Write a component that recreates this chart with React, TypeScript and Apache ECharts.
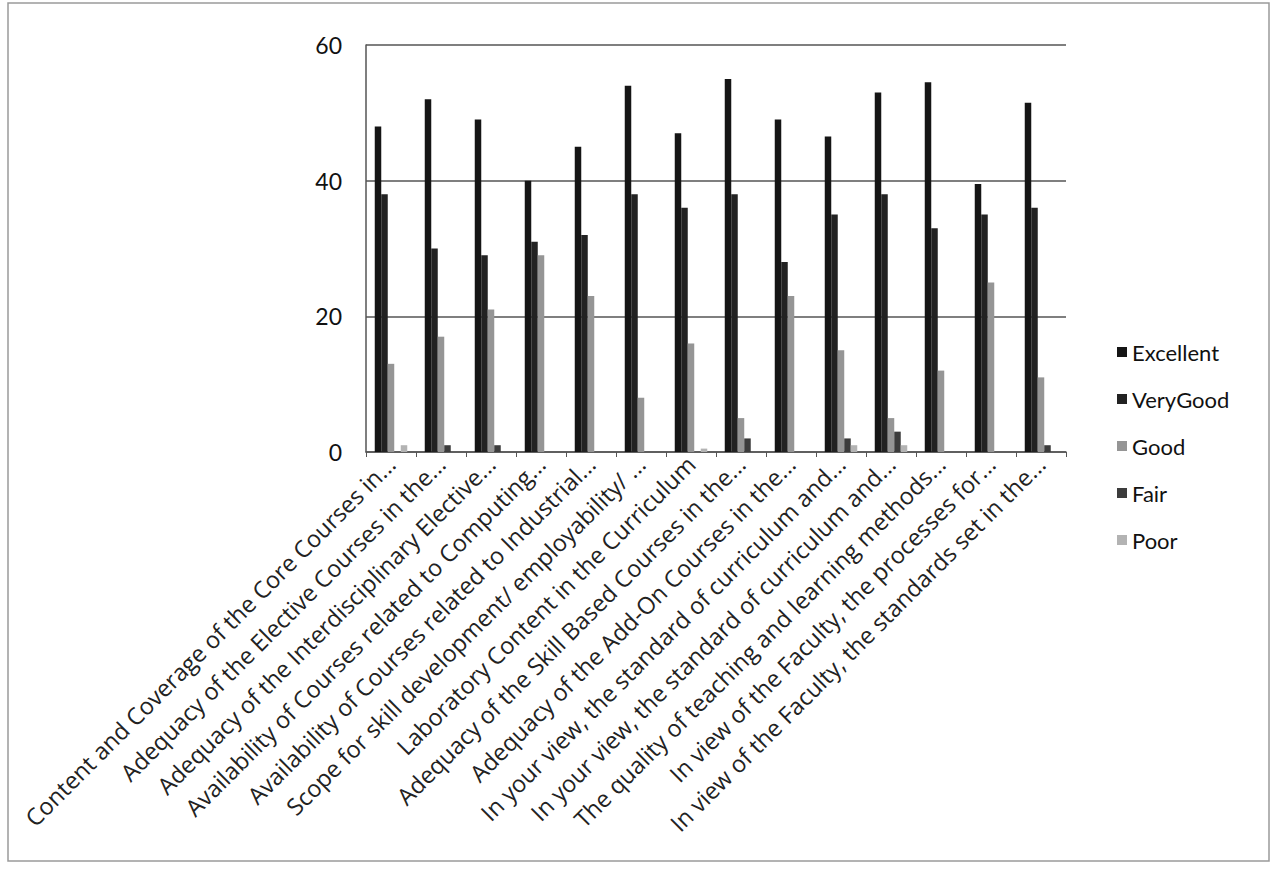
import React, { useEffect, useRef } from "react";
import * as echarts from "echarts";

const categories = [
  "Content and Coverage of the Core Courses in...",
  "Adequacy of the Elective Courses in the...",
  "Adequacy of the Interdisciplinary Elective...",
  "Availability of Courses related to Computing...",
  "Availability of Courses related to Industrial...",
  "Scope for skill development/ employability/ ...",
  "Laboratory Content in the Curriculum",
  "Adequacy of the Skill Based Courses in the...",
  "Adequacy of the Add-On Courses in the...",
  "In your view, the standard of curriculum and...",
  "In your view, the standard of curriculum and...",
  "The quality of teaching and learning methods...",
  "In view of the Faculty, the processes for...",
  "In view of the Faculty, the standards set in the...",
];

const excellent = [48, 52, 49, 40, 45, 54, 47, 55, 49, 46.5, 53, 54.5, 39.5, 51.5];
const veryGood = [38, 30, 29, 31, 32, 38, 36, 38, 28, 35, 38, 33, 35, 36];
const good = [13, 17, 21, 29, 23, 8, 16, 5, 23, 15, 5, 12, 25, 11];
const fair = [0, 1, 1, 0, 0, 0, 0, 2, 0, 2, 3, 0, 0, 1];
const poor = [1, 0, 0, 0, 0, 0, 0.5, 0, 0, 1, 1, 0, 0, 0];

const seriesNames = ["Excellent", "VeryGood", "Good", "Fair", "Poor"];
const seriesData = [excellent, veryGood, good, fair, poor];
const seriesColors = ["#151515", "#222222", "#959595", "#3c3c3c", "#b3b3b3"];

const yTicks = [0, 20, 40, 60];

export default function App() {
  const ref = useRef<HTMLDivElement>(null);
  useEffect(() => {
    const chart = echarts.init(ref.current!, null, { renderer: "svg" });
    chart.setOption({
      animation: false,
      backgroundColor: "#ffffff",
      textStyle: { fontFamily: "Lato" },
      graphic: [
        {
          type: "rect",
          shape: { x: 8, y: 3, width: 1261, height: 858 },
          style: { fill: "none", stroke: "#9a9a9a", lineWidth: 1.5 },
          silent: true,
        },
      ],
      legend: {
        orient: "vertical",
        left: 1112,
        top: 336,
        itemWidth: 10,
        itemHeight: 10,
        itemGap: 25,
        icon: "rect",
        textStyle: { fontSize: 22, color: "#111", fontFamily: "Lato" },
        data: seriesNames,
      },
      grid: { left: 366, right: 213, top: 45, bottom: 418, containLabel: false },
      xAxis: {
        type: "category",
        data: categories,
        axisLine: { show: true, lineStyle: { color: "#555", width: 1.5 } },
        axisTick: { show: true, interval: 0, length: 5, lineStyle: { color: "#555" } },
        axisLabel: {
          interval: 0,
          rotate: 45,
          fontSize: 23.5,
          color: "#222",
          fontFamily: "Open Sans",
          margin: 8,
        },
      },
      yAxis: {
        type: "value",
        min: yTicks[0],
        max: yTicks[yTicks.length - 1],
        interval: 20,
        axisLine: { show: true, lineStyle: { color: "#555", width: 1.5 } },
        axisTick: { show: false },
        axisLabel: { fontSize: 23, color: "#111", margin: 24, fontFamily: "Lato" },
        splitLine: { show: true, lineStyle: { color: "#555", width: 1.5 } },
      },
      series: seriesNames.map((name, i) => ({
        name,
        type: "bar",
        data: seriesData[i],
        barWidth: 6.5,
        barGap: "0%",
        itemStyle: { color: seriesColors[i] },
      })),
    });
    return () => chart.dispose();
  }, []);
  return (
    <div
      ref={ref}
      style={{ position: "absolute", left: 0, top: 0, width: 1279, height: 870 }}
    />
  );
}
